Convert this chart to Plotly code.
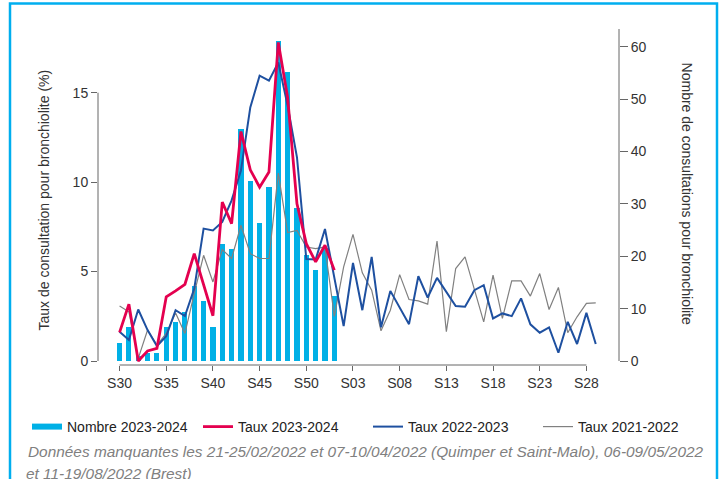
import plotly.graph_objects as go

# ---------------- data ----------------
week_idx = list(range(52))  # S30 ... S29 (next year)
tick_idx = list(range(0, 51, 5))
tick_labels = ["S30", "S35", "S40", "S45", "S50", "S03", "S08", "S13", "S18", "S23", "S28"]

nombre_2324 = [3.4, 6.4, 1.0, 1.5, 1.5, 6.4, 7.4, 9.3, 14.4, 11.5, 6.4, 22.3,
               21.4, 44.3, 34.4, 26.3, 33.3, 61.1, 55.2, 29.3, 20.3, 17.4, 21.5, 12.4]

taux_2324 = [1.6, 3.18, 0.0, 0.56, 0.71, 3.59, 3.92, 4.29, 6.0, 4.33, 2.53, 8.89,
             7.68, 12.83, 10.69, 9.72, 10.56, 17.81, 14.74, 8.79, 6.56, 5.54, 6.47, 5.08]

taux_2223 = [1.64, 1.17, 2.88, 1.73, 0.84, 1.39, 2.84, 2.51, 4.05, 7.4,
             7.3, 7.77, 8.98, 10.65, 14.18, 15.95, 15.67, 16.69, 14.28, 11.39,
             5.7, 5.67, 7.38, 4.68, 1.95, 5.48, 2.84, 5.82, 1.88, 3.92,
             3.03, 2.06, 4.74, 3.55, 4.65, 3.87, 3.07, 3.03, 3.96, 4.24,
             2.38, 2.66, 2.51, 3.5, 2.05, 1.58, 1.88, 0.46, 2.19, 0.95,
             2.69, 0.95]

taux_2122 = [3.07, 2.75, 0.15, 1.73, 0.89, 1.54, 2.69, 1.54, 3.78, 5.91,
             4.42, 6.23, 5.73, 7.59, 6.0, 5.73, 5.73, 10.5, 7.18, 7.3,
             6.37, 6.28, 6.37, 2.5, 5.26, 7.08, 4.93, 3.96, 1.69, 2.84,
             4.83, 3.44, 3.36, 3.18, 6.71, 1.64, 5.17, 5.82, 4.0, 2.19,
             4.8, 2.38, 4.48, 4.48, 3.63, 4.89, 2.88, 4.11, 1.58, 2.47,
             3.22, 3.25]

count_ticks = [0, 10, 20, 30, 40, 50, 60]
rate_ticks = [0, 5, 10, 15]

footnote_1 = "Données manquantes les 21-25/02/2022 et 07-10/04/2022 (Quimper et Saint-Malo), 06-09/05/2022"
footnote_2 = "et 11-19/08/2022 (Brest)"

# ---------------- styles ----------------
CYAN = "#00B0E6"
RED = "#E4004F"
BLUE = "#1E50A0"
GREY = "#808080"
AXIS = "#666666"
TXT = "#333333"
FONT = "Liberation Sans, Arial, sans-serif"

W, H = 724, 479
ML, MR, MT, MB = 98, 105, 29, 114
PW = W - ML - MR
PH = H - MT - MB


def px(x):
    return (x - ML) / PW


def py(y):
    return (H - MB - y) / PH


fig = go.Figure()

fig.add_trace(go.Bar(x=week_idx[:len(nombre_2324)], y=nombre_2324, yaxis="y",
                     marker=dict(color=CYAN, line=dict(width=0)), width=0.55,
                     showlegend=False, name="Nombre 2023-2024"))
# legend entry for bars (line swatch like the reference)
fig.add_trace(go.Scatter(x=[None], y=[None], yaxis="y", mode="lines",
                         line=dict(color=CYAN, width=6), name="Nombre 2023-2024",
                         legend="legend"))
fig.add_trace(go.Scatter(x=week_idx[:len(taux_2122)], y=taux_2122, yaxis="y2", mode="lines",
                         line=dict(color=GREY, width=1.2), name="Taux 2021-2022",
                         legend="legend4"))
fig.add_trace(go.Scatter(x=week_idx[:len(taux_2223)], y=taux_2223, yaxis="y2", mode="lines",
                         line=dict(color=BLUE, width=2), name="Taux 2022-2023",
                         legend="legend3"))
fig.add_trace(go.Scatter(x=week_idx[:len(taux_2324)], y=taux_2324, yaxis="y2", mode="lines",
                         line=dict(color=RED, width=2.8), name="Taux 2023-2024",
                         legend="legend2"))


def leg(x_px):
    return dict(orientation="h", x=px(x_px), xanchor="left", y=py(427), yanchor="middle",
                font=dict(size=14, color="#222222", family=FONT),
                bgcolor="rgba(0,0,0,0)", borderwidth=0)


fig.update_layout(
    width=W, height=H,
    margin=dict(l=ML, r=MR, t=MT, b=MB, pad=0, autoexpand=False),
    paper_bgcolor="white", plot_bgcolor="white",
    font=dict(family=FONT, size=14, color=TXT),
    bargap=0,
    hovermode=False,
    xaxis=dict(range=[-2.31, 53.49], tickvals=tick_idx, ticktext=tick_labels,
               ticks="outside", ticklen=5, tickcolor=AXIS, tickwidth=1,
               showline=False, showgrid=False, zeroline=False, automargin=False,
               tickfont=dict(size=14, color=TXT, family=FONT)),
    yaxis=dict(side="right", range=[-0.764, 63.38], tickvals=count_ticks,
               ticks="outside", ticklen=8, tickcolor=AXIS, tickwidth=1,
               showline=False, showgrid=False, zeroline=False, automargin=False,
               tickfont=dict(size=14, color=TXT, family=FONT)),
    yaxis2=dict(side="left", overlaying="y", range=[-0.2236, 18.561], tickvals=rate_ticks,
                ticks="outside", ticklen=6, tickcolor=AXIS, tickwidth=1,
                showline=False, showgrid=False, zeroline=False, automargin=False,
                tickfont=dict(size=14, color=TXT, family=FONT)),
    legend=leg(27),
    legend2=leg(198),
    legend3=leg(368),
    legend4=leg(538),
    shapes=[
        dict(type="line", xref="paper", yref="y2", x0=0, x1=0, y0=0, y1=15,
             line=dict(color=AXIS, width=1)),
        dict(type="line", xref="paper", yref="y", x0=1, x1=1, y0=0, y1=63.38,
             line=dict(color=AXIS, width=1)),
        dict(type="line", xref="x", yref="paper", x0=0, x1=50, y0=0, y1=0,
             line=dict(color=AXIS, width=1)),
        dict(type="rect", xref="paper", yref="paper", x0=px(10), x1=px(717),
             y0=py(520), y1=py(3.5), line=dict(color="#00AEEF", width=2.5),
             fillcolor="rgba(0,0,0,0)"),
    ],
    annotations=[
        dict(text="Taux de consultation pour bronchiolite (%)", xref="paper", yref="paper",
             x=px(43.5), y=py(200), xanchor="center", yanchor="middle", textangle=-90,
             showarrow=False, font=dict(size=14, color=TXT, family=FONT)),
        dict(text="Nombre de consultations pour bronchiolite", xref="paper", yref="paper",
             x=px(686.7), y=py(193.3), xanchor="center", yanchor="middle", textangle=90,
             showarrow=False, font=dict(size=14, color=TXT, family=FONT)),
        dict(text="<i>" + footnote_1 + "</i>", xref="paper", yref="paper",
             x=px(26), y=py(451), xanchor="left", yanchor="middle",
             showarrow=False, font=dict(size=15.4, color="#808080", family=FONT)),
        dict(text="<i>" + footnote_2 + "</i>", xref="paper", yref="paper",
             x=px(23.5), y=py(473.5), xanchor="left", yanchor="middle",
             showarrow=False, font=dict(size=15.4, color="#808080", family=FONT)),
    ],
)

fig.write_html(
    "out.html",
    config={"displayModeBar": False, "staticPlot": True},
    post_script="document.body.style.margin='0px';document.body.style.overflow='hidden';",
)
